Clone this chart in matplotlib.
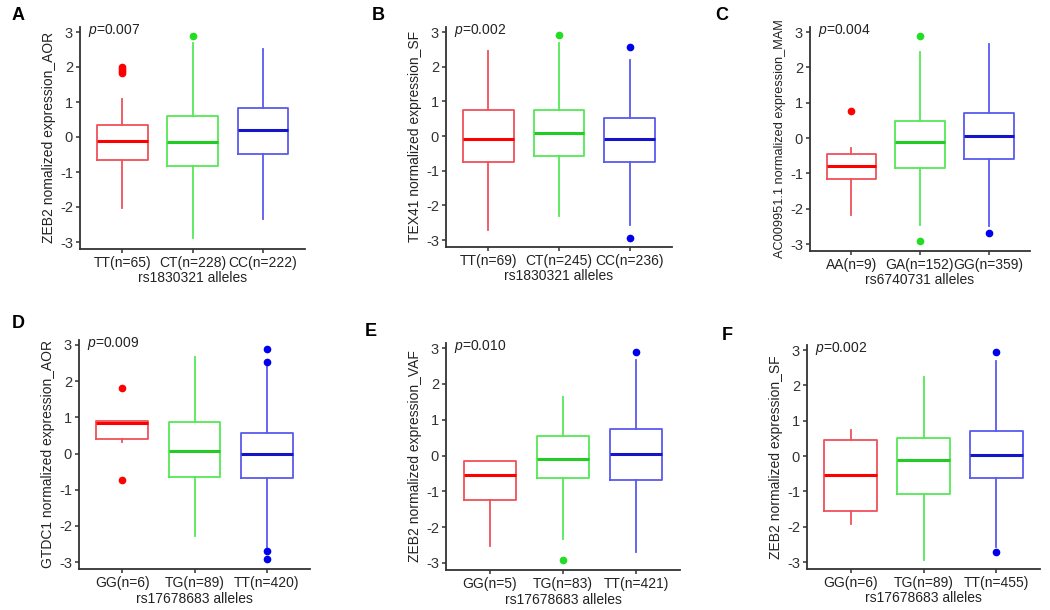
import numpy as np
import matplotlib
matplotlib.use('Agg')
import matplotlib.pyplot as plt

plt.rcParams['font.family'] = ['Liberation Sans', 'DejaVu Sans']
plt.rcParams['mathtext.fontset'] = 'custom'
plt.rcParams['mathtext.it'] = 'Liberation Sans:italic'
plt.rcParams['mathtext.rm'] = 'Liberation Sans'

# panel texts
letras = ['A', 'B', 'C', 'D', 'E', 'F']
pvals = ['0.007', '0.002', '0.004', '0.009', '0.010', '0.002']
ylabels = ['ZEB2 nomalized expression_AOR', 'TEX41 normalized expression_SF',
           'AC009951.1 normalized expression_MAM', 'GTDC1 normalized expression_AOR',
           'ZEB2 normalized expression_VAF', 'ZEB2 normalized expression_SF']
xlabels = ['rs1830321 alleles', 'rs1830321 alleles', 'rs6740731 alleles',
           'rs17678683 alleles', 'rs17678683 alleles', 'rs17678683 alleles']
grupos = [['TT(n=65)', 'CT(n=228)', 'CC(n=222)'],
          ['TT(n=69)', 'CT(n=245)', 'CC(n=236)'],
          ['AA(n=9)', 'GA(n=152)', 'GG(n=359)'],
          ['GG(n=6)', 'TG(n=89)', 'TT(n=420)'],
          ['GG(n=5)', 'TG(n=83)', 'TT(n=421)'],
          ['GG(n=6)', 'TG(n=89)', 'TT(n=455)']]

# box stats per group: whislo, q1, med, q3, whishi
cajas = [
    [[-2.02, -0.67, -0.11, 0.33, 1.09], [-2.89, -0.82, -0.15, 0.59, 2.69], [-2.33, -0.49, 0.21, 0.83, 2.51]],
    [[-2.71, -0.74, -0.08, 0.75, 2.44], [-2.30, -0.57, 0.10, 0.74, 2.68], [-2.57, -0.74, -0.09, 0.51, 2.20]],
    [[-2.18, -1.15, -0.78, -0.44, -0.28], [-2.45, -0.85, -0.11, 0.48, 2.42], [-2.50, -0.59, 0.07, 0.72, 2.66]],
    [[0.32, 0.39, 0.83, 0.90, 0.90], [-2.27, -0.65, 0.07, 0.86, 2.67], [-2.59, -0.68, -0.02, 0.58, 2.41]],
    [[-2.53, -1.23, -0.54, -0.14, -0.14], [-2.33, -0.62, -0.09, 0.54, 1.63], [-2.70, -0.67, 0.03, 0.73, 2.67]],
    [[-1.92, -1.57, -0.55, 0.44, 0.75], [-2.94, -1.07, -0.10, 0.51, 2.24], [-2.57, -0.62, 0.03, 0.72, 2.69]],
]
atipicos = [
    [[1.84, 1.89, 1.94, 1.99], [2.90], []],
    [[], [2.92], [2.56, -2.93]],
    [[0.77], [2.90, -2.91], [-2.69]],
    [[1.82, -0.72], [], [2.90, 2.54, -2.69, -2.92]],
    [[], [-2.93], [2.90]],
    [[], [], [2.94, -2.71]],
]

col_caja = ['#F0505A', '#55E855', '#5A5AF0']
col_med = ['#FF0000', '#22CC22', '#1515C8']
col_pto = ['#FF0000', '#22DD22', '#0000EE']

# pixel layout: left, right, y=3, y=-3
marcos = [(80, 305, 32, 242), (446, 672, 32, 240), (810, 1030, 32, 244),
          (79, 310, 345, 562), (446, 680, 348, 563), (807, 1040, 350, 562)]
pos_letra = [(12, 15), (372, 15), (715, 15), (12, 323), (365, 332), (722, 335)]
ylab_size = [10, 10, 9.2, 10, 10, 10]

W, H = 1050, 610
fig = plt.figure(figsize=(10.5, 6.1), dpi=100)
ylo, yhi = -3.2, 3.15
fs = 10

for i in range(6):
    l, r, y3, ym3 = marcos[i]
    u = (ym3 - y3) / 6.0
    bot = ym3 + (-3 - ylo) * u
    top = y3 - (yhi - 3) * u
    ax = fig.add_axes([l / W, 1 - bot / H, (r - l) / W, (bot - top) / H])
    for j in range(3):
        wl, q1, md, q3, wh = cajas[i][j]
        st = [{'whislo': wl, 'q1': q1, 'med': md, 'q3': q3, 'whishi': wh,
               'fliers': np.array(atipicos[i][j])}]
        ax.bxp(st, positions=[j + 1], widths=0.72, showcaps=False,
               boxprops=dict(color=col_caja[j], lw=1.3),
               whiskerprops=dict(color=col_caja[j], lw=1.3),
               medianprops=dict(color=col_med[j], lw=2.2),
               flierprops=dict(marker='o', markersize=4.5, markerfacecolor=col_pto[j],
                               markeredgecolor=col_pto[j], linestyle='none'))
    ax.set_xlim(0.4, 3.6)
    ax.set_ylim(ylo, yhi)
    ax.set_yticks([-3, -2, -1, 0, 1, 2, 3])
    ax.set_yticklabels(['-3', '-2', '-1', '0', '1', '2', '3'])
    ax.set_xticks([1, 2, 3])
    ax.set_xticklabels(grupos[i])
    ax.spines['top'].set_visible(False)
    ax.spines['right'].set_visible(False)
    for s in ['left', 'bottom']:
        ax.spines[s].set_color('#333333')
        ax.spines[s].set_linewidth(1.3)
    ax.tick_params(colors='#333333', labelsize=fs + 0.5, length=3, width=1.1, pad=2)
    ax.tick_params(axis='x', labelcolor='#222222', labelsize=fs)
    ax.set_ylabel(ylabels[i], fontsize=ylab_size[i], color='#222222', labelpad=3)
    ax.set_xlabel(xlabels[i], fontsize=fs, color='#222222', labelpad=1)
    ax.text(0.035, 0.985, '$\\mathit{p}$=' + pvals[i], transform=ax.transAxes,
            fontsize=fs, ha='left', va='center', color='#222222')
    fig.text(pos_letra[i][0] / W, 1 - pos_letra[i][1] / H, letras[i],
             fontsize=13, fontweight='bold', ha='left', va='center')

fig.savefig('out.png', dpi=100, facecolor='white')
